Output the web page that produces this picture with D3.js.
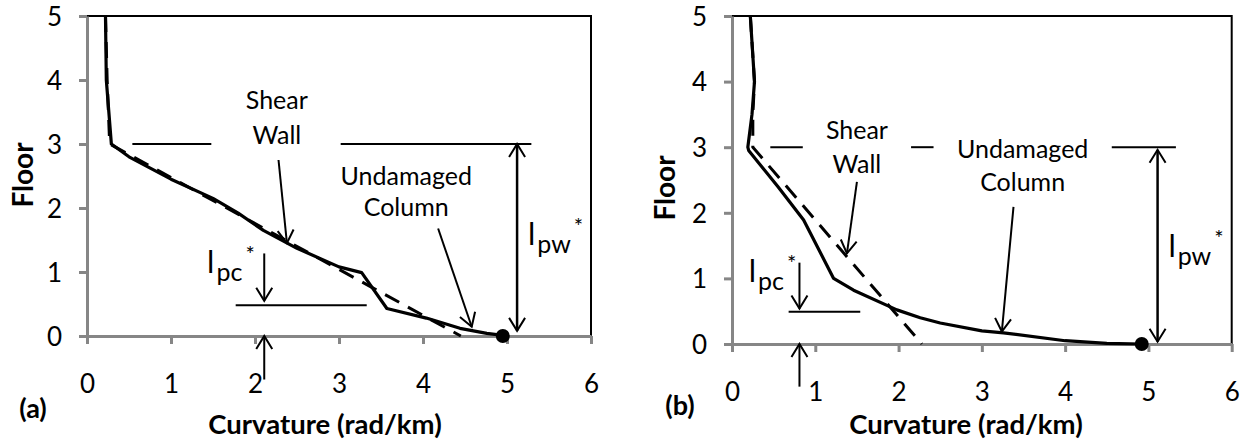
<!DOCTYPE html>
<html>
<head>
<meta charset="utf-8">
<script src="https://cdn.jsdelivr.net/npm/d3@7"></script>
<style>
  body { margin: 0; background: #fff; }
  text { font-family: Lato, "Open Sans", sans-serif; fill: #000; }
</style>
</head>
<body>
<script>
// Axis ticks
const floorTicks = [0, 1, 2, 3, 4, 5];
const curvTicks = [0, 1, 2, 3, 4, 5, 6];

// Panel (a): [curvature, floor]
const wallA = [[0.22, 5], [0.24, 4], [0.27, 3], [4.45, 0]];
const columnA = [[0.22, 5], [0.23, 4], [0.29, 3], [0.5, 2.8], [1.0, 2.45], [1.5, 2.15], [1.8, 1.92],
                 [2.1, 1.65], [2.5, 1.37], [3.0, 1.08], [3.27, 0.99], [3.57, 0.43], [4.04, 0.28],
                 [4.44, 0.12], [4.76, 0.04], [4.95, 0.01]];
const peakA = [4.95, 0];

// Panel (b)
const wallB = [[0.22, 5], [0.27, 4], [0.25, 3.5], [0.25, 3], [2.28, 0]];
const columnB = [[0.22, 5], [0.27, 4], [0.24, 3.5], [0.19, 3.0], [0.2, 2.95], [0.55, 2.4], [0.86, 1.89],
                 [1.22, 1.0], [1.46, 0.82], [1.98, 0.52], [2.26, 0.4], [2.5, 0.32], [3.0, 0.2],
                 [3.26, 0.17], [4.0, 0.05], [4.5, 0.01], [4.92, 0]];
const peakB = [4.92, 0];

// Annotations (data coordinates)
const levelA = [[[0.54, 3], [1.48, 3]], [[3.02, 3], [5.29, 3]], [[1.77, 0.48], [3.33, 0.48]]];
const arrowsA = [[[2.28, 2.75], [2.38, 1.45]], [[4.18, 1.68], [4.58, 0.145]], [[2.11, 1.29], [2.11, 0.55]], [[2.11, -0.68], [2.11, 0]]];
const doubleA = [[5.12, 3], [5.12, 0.08]];
const labelsA = [["Shear", 2.26, 3.69], ["Wall", 2.26, 3.14], ["Undamaged", 3.80, 2.50], ["Column", 3.80, 2.02]];
const lpwA = [5.25, 1.42], lpcA = [1.43, 0.98];

const levelB = [[[0.46, 3], [0.85, 3]], [[2.15, 3], [2.42, 3]], [[4.56, 3], [5.33, 3]], [[0.68, 0.49], [1.54, 0.49]]];
const arrowsB = [[[1.50, 2.47], [1.38, 1.38]], [[3.38, 2.09], [3.24, 0.19]], [[0.81, 1.24], [0.81, 0.54]], [[0.81, -0.65], [0.81, 0]]];
const doubleB = [[5.11, 2.96], [5.11, 0.035]];
const labelsB = [["Shear", 1.50, 3.26], ["Wall", 1.50, 2.75], ["Undamaged", 3.49, 2.98], ["Column", 3.49, 2.47]];
const lpwB = [5.24, 1.33], lpcB = [0.20, 0.95];

const svg = d3.select("body").append("svg")
    .attr("width", 1249)
    .attr("height", 442);

const defs = svg.append("defs");
defs.append("marker")
    .attr("id", "head")
    .attr("markerUnits", "userSpaceOnUse")
    .attr("viewBox", "-16 -10 20 20")
    .attr("markerWidth", 20).attr("markerHeight", 20)
    .attr("refX", 0).attr("refY", 0)
    .attr("orient", "auto-start-reverse")
  .append("path")
    .attr("d", "M-13,-8L0,0L-13,8")
    .attr("fill", "none")
    .attr("stroke", "#000")
    .attr("stroke-width", 2);

function drawPanel(p) {
    const x = d3.scaleLinear().domain([0, 6]).range([p.left, p.right]);
    const y = d3.scaleLinear().domain([0, 5]).range([p.bottom, p.top]);
    const g = svg.append("g");

    // frame top/right
    g.append("path")
        .attr("d", `M${x(0)},${y(5)}H${x(6)}V${y(0)}`)
        .attr("fill", "none").attr("stroke", "#000").attr("stroke-width", 2);

    const ax = g.append("g")
        .attr("transform", `translate(0,${y(0)})`)
        .call(d3.axisBottom(x).tickValues(curvTicks).tickFormat(d3.format("d"))
            .tickSize(8).tickSizeOuter(0).tickPadding(31));
    const ay = g.append("g")
        .attr("transform", `translate(${x(0)},0)`)
        .call(d3.axisLeft(y).tickValues(floorTicks).tickFormat(d3.format("d"))
            .tickSize(8).tickSizeOuter(0).tickPadding(17));
    [ax, ay].forEach(a => {
        a.select(".domain").attr("stroke", "#868686").attr("stroke-width", 3);
        a.selectAll(".tick line").attr("stroke", "#868686").attr("stroke-width", 3);
        a.selectAll(".tick text").attr("font-size", 26).attr("font-family", "Lato, sans-serif").attr("fill", "#000");
    });
    ay.selectAll(".tick text").attr("dy", "0.36em");

    // series
    const line = d3.line().x(d => x(d[0])).y(d => y(d[1]));
    g.append("path").datum(p.wall).attr("d", line)
        .attr("fill", "none").attr("stroke", "#000").attr("stroke-width", 3)
        .attr("stroke-dasharray", "16,10");
    g.append("path").datum(p.column).attr("d", line)
        .attr("fill", "none").attr("stroke", "#000").attr("stroke-width", 3.2)
        .attr("stroke-linejoin", "round");
    g.append("circle").attr("cx", x(p.peak[0])).attr("cy", y(p.peak[1])).attr("r", 7).attr("fill", "#000");

    // annotations
    p.levels.forEach(s => g.append("line")
        .attr("x1", x(s[0][0])).attr("y1", y(s[0][1]))
        .attr("x2", x(s[1][0])).attr("y2", y(s[1][1]))
        .attr("stroke", "#000").attr("stroke-width", 2));
    p.arrows.forEach(s => g.append("line")
        .attr("x1", x(s[0][0])).attr("y1", y(s[0][1]))
        .attr("x2", x(s[1][0])).attr("y2", y(s[1][1]))
        .attr("stroke", "#000").attr("stroke-width", 2)
        .attr("marker-end", "url(#head)"));
    g.append("line")
        .attr("x1", x(p.double[0][0])).attr("y1", y(p.double[0][1]))
        .attr("x2", x(p.double[1][0])).attr("y2", y(p.double[1][1]))
        .attr("stroke", "#000").attr("stroke-width", 2.5)
        .attr("marker-start", "url(#head)").attr("marker-end", "url(#head)");

    p.labels.forEach(l => g.append("text")
        .attr("x", x(l[1])).attr("y", y(l[2])).attr("dy", "0.36em")
        .attr("text-anchor", "middle").attr("font-size", 25).text(l[0]));

    [[p.lpw, "pw"], [p.lpc, "pc"]].forEach(([pos, sub]) => {
        const t = g.append("text").attr("x", x(pos[0])).attr("y", y(pos[1]));
        t.append("tspan").attr("font-size", 31).text("l");
        t.append("tspan").attr("font-size", 25).attr("dy", 8).attr("dx", 2).text(sub);
        t.append("tspan").attr("font-size", 22).attr("dy", -19).attr("dx", 3).text("*");
    });

    // titles
    g.append("text")
        .attr("transform", `translate(${p.floorX},${p.floorY}) rotate(-90)`)
        .attr("text-anchor", "middle").attr("dy", "0.36em")
        .attr("font-size", 28).attr("font-weight", "bold").text("Floor");
    g.append("text")
        .attr("x", p.titleX).attr("y", p.titleY).attr("dy", "0.36em")
        .attr("text-anchor", "middle").attr("font-size", 27.5).attr("font-weight", "bold")
        .text("Curvature (rad/km)");
    g.append("text")
        .attr("x", p.tagX).attr("y", p.tagY).attr("dy", "0.36em")
        .attr("text-anchor", "middle").attr("font-size", 27).attr("font-weight", "bold")
        .text(p.tag);
}

drawPanel({
    left: 87, right: 591, top: 16, bottom: 336,
    wall: wallA, column: columnA, peak: peakA,
    levels: levelA, arrows: arrowsA, double: doubleA, labels: labelsA, lpw: lpwA, lpc: lpcA,
    floorX: 23, floorY: 175, titleX: 325, titleY: 424, tagX: 33, tagY: 408, tag: "(a)"
});

drawPanel({
    left: 732, right: 1231.7, top: 16, bottom: 344,
    wall: wallB, column: columnB, peak: peakB,
    levels: levelB, arrows: arrowsB, double: doubleB, labels: labelsB, lpw: lpwB, lpc: lpcB,
    floorX: 665, floorY: 188, titleX: 966, titleY: 424, tagX: 680, tagY: 405, tag: "(b)"
});
</script>
</body>
</html>
